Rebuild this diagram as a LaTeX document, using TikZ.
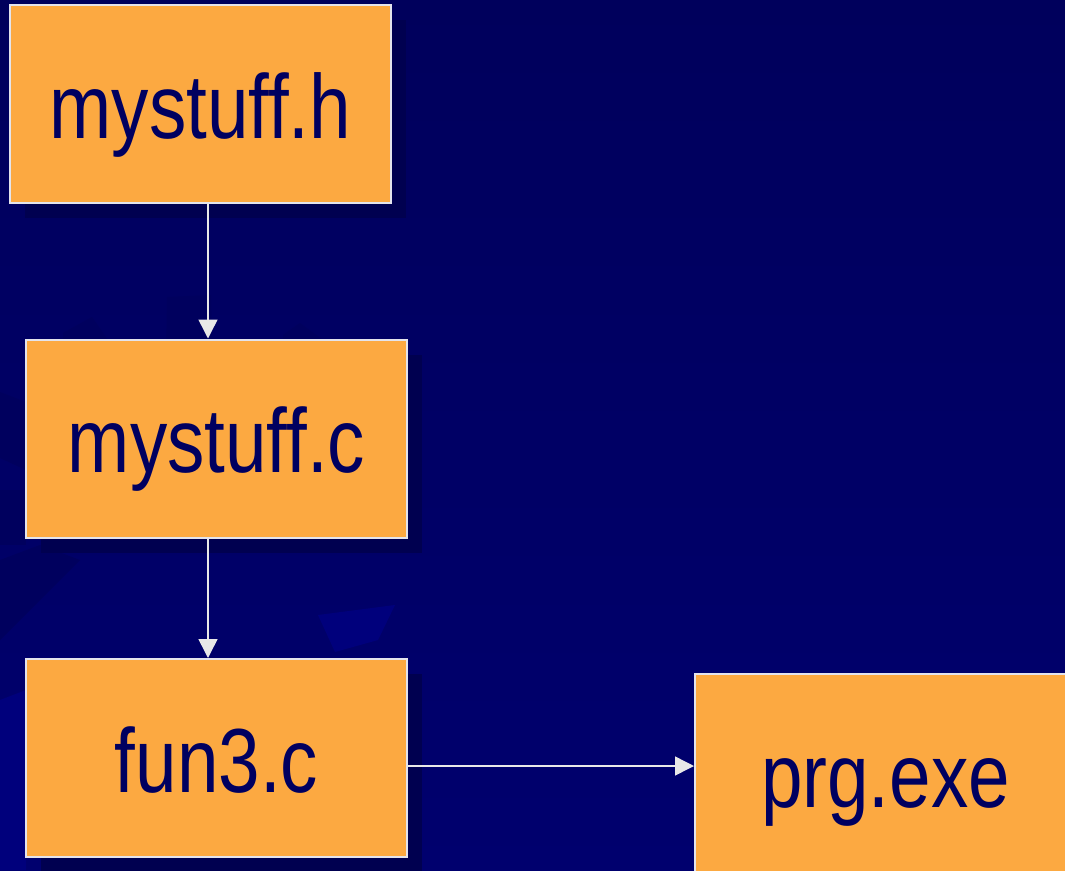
\documentclass[tikz,border=0pt]{standalone}
\usepackage{fontspec}
\newfontfamily\boxfont[FakeStretch=0.82]{Liberation Sans}
\usetikzlibrary{arrows.meta,shadows}

\definecolor{bgtop}{HTML}{00005C}
\definecolor{bgmid}{HTML}{000079}
\definecolor{bgbot}{HTML}{00006E}
\definecolor{boxfill}{HTML}{FCA941}
\definecolor{boxline}{HTML}{E4E4EC}
\definecolor{boxtext}{HTML}{000060}
\definecolor{shadowcol}{HTML}{000050}
\definecolor{linkcol}{HTML}{E8E8E8}
\definecolor{geardark}{HTML}{00005E}
\definecolor{gearlight}{HTML}{00007C}

\begin{document}
\begin{tikzpicture}[x=1pt,y=-1pt,
  filebox/.style={draw=boxline, line width=2pt, fill=boxfill,
    minimum width=381pt, minimum height=198pt, inner sep=0pt,
    text=boxtext, font=\boxfont\fontsize{91}{91}\selectfont,
    text height=80pt, text depth=12pt,
    drop shadow={shadow xshift=15pt, shadow yshift=-15pt,
      fill=shadowcol, opacity=1}},
  link/.style={draw=linkcol, line width=1.5pt,
    -{Triangle[length=19pt,width=19pt,fill=linkcol]}},
  gear/.style={fill=geardark},
  gearhi/.style={fill=gearlight}]

  % page and background
  \useasboundingbox (0,0) rectangle (1065,870);
  \shade[top color=bgtop, middle color=bgmid, bottom color=bgbot]
    (0,0) rectangle (1065,870);

  % faint template shapes on the left
  \fill[gear] (63,333) -- (92,317) -- (108,340) -- (108,360) -- (63,360) -- cycle;
  \fill[gear] (167,297) -- (211,295) -- (212,360) -- (166,360) -- cycle;
  \fill[gear] (283,335) -- (300,323) -- (323,340) -- (323,360) -- (283,360) -- cycle;
  \fill[gear] (0,392) -- (26,402) -- (26,470) -- (0,458) -- cycle;
  \fill[gear] (0,490) -- (26,490) -- (26,545) -- (0,545) -- cycle;
  \fill[gear] (0,560) -- (40,545) -- (80,560) -- (0,640) -- cycle;
  \fill[gearhi] (318,615) -- (395,605) -- (378,640) -- (335,652) -- cycle;
  \fill[gearhi] (0,700) -- (26,690) -- (26,870) -- (0,870) -- cycle;

  % files
  \node[filebox] (hdr)  at (200.5,104)   {mystuff.h};
  \node[filebox] (src)  at (216.5,438.5) {mystuff.c};
  \node[filebox] (fun)  at (216.5,758)   {fun3.c};
  \node[filebox] (exe)  at (885.5,773)   {prg.exe};

  % connector guides
  \coordinate (ax) at (208,0);
  \coordinate (ay) at (0,766);

  % build flow
  \draw[link] (hdr.south -| ax) -- (src.north -| ax);
  \draw[link] (src.south -| ax) -- (fun.north -| ax);
  \draw[link] (fun.east |- ay) -- (exe.west |- ay);
\end{tikzpicture}
\end{document}
